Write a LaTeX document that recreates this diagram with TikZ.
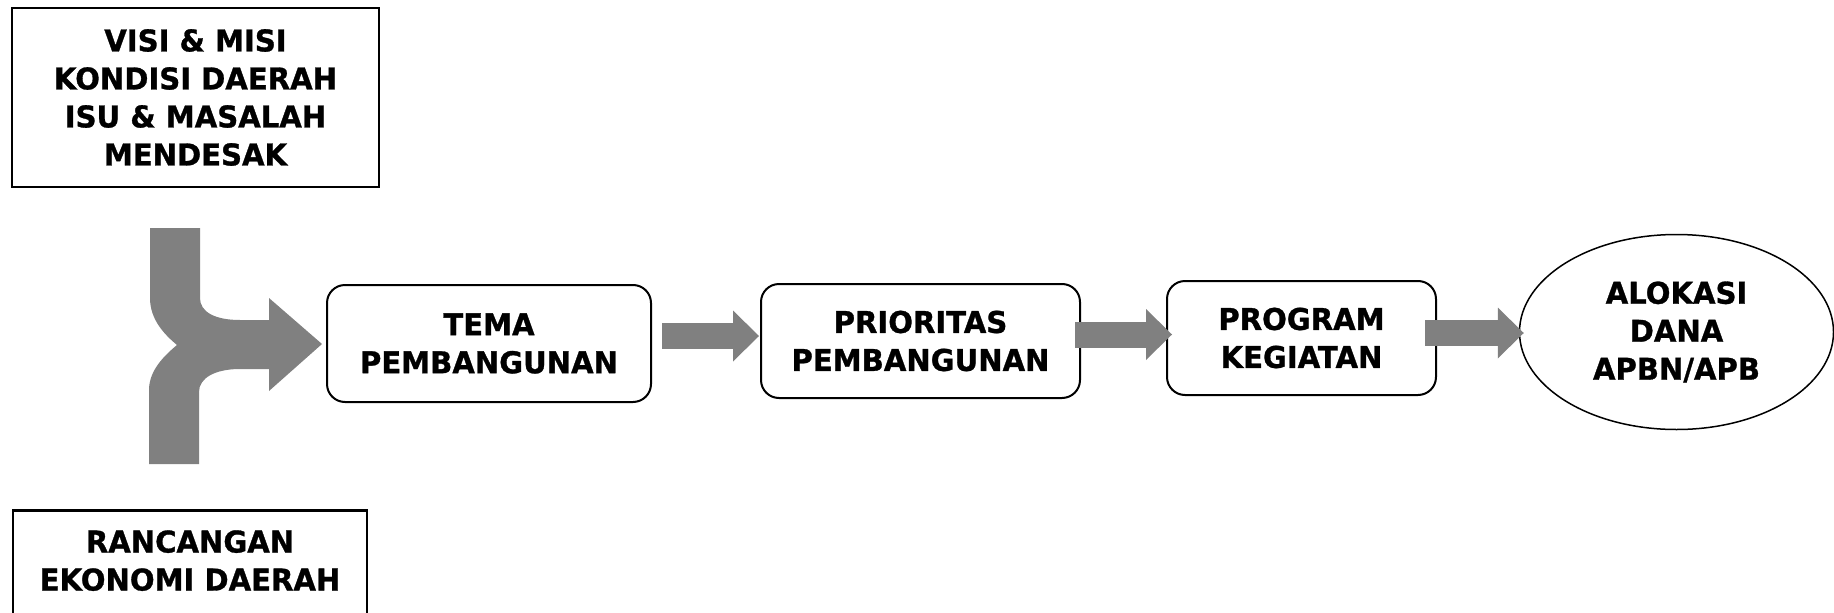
\documentclass[tikz,border=0pt]{standalone}
\usepackage{fontspec}
\setmainfont{DejaVu Sans}[FakeStretch=0.97,FakeBold=1]
\usetikzlibrary{arrows.meta,shapes.geometric}
\tikzset{
  lbl/.style={font=\fontsize{30}{38}\selectfont\bfseries, align=center, inner sep=0pt},
  plainbox/.style={lbl, draw, line width=2.5pt},
  roundbox/.style={lbl, draw, line width=2pt, rounded corners=18pt},
  oval/.style={lbl, draw, ellipse, line width=1.5pt},
  flowarrow/.style={draw=gray, line width=26pt, -{Triangle[length=26pt,width=51pt,line width=0pt]}},
}
\begin{document}
\begin{tikzpicture}[x=1pt,y=-1pt]
    \useasboundingbox (0,0) rectangle (1834,613);
    \node[plainbox, minimum width=367pt, minimum height=179pt] (visi) at (195.5,97.5) {VISI \& MISI\\KONDISI DAERAH\\ISU \& MASALAH\\MENDESAK};
    \node[plainbox, anchor=north, inner ysep=20pt] (ekonomi) at (190,509) {\parbox[t][150pt][t]{354pt}{\centering\fontsize{30}{38}\selectfont\bfseries RANCANGAN\\EKONOMI DAERAH}};
    \node[roundbox, minimum width=324pt, minimum height=117pt] (tema) at (489,343.5) {TEMA\\PEMBANGUNAN};
    \node[roundbox, minimum width=319pt, minimum height=114pt] (prio) at (920.5,341) {PRIORITAS\\PEMBANGUNAN};
    \node[roundbox, minimum width=269pt, minimum height=114pt] (prog) at (1301.5,338) {PROGRAM\\KEGIATAN};
    \node[oval, minimum width=314pt, minimum height=195pt] (dana) at (1676.5,332) {ALOKASI\\DANA\\APBN/APB};
    % merging arrow
    \fill[gray] (150,228) -- (200,228) -- (200,298) .. controls (200,312) and (215,320) .. (240,320)
      -- (269,320) -- (269,298) -- (322,344) -- (269,391) -- (269,369) -- (240,369)
      .. controls (215,369) and (199,378) .. (199,392) -- (199,464) -- (149,464) -- (149,390)
      .. controls (149,370) and (165,355) .. (177,345) .. controls (165,335) and (150,320) .. (150,298) -- cycle;
    \draw[flowarrow] ([xshift=10pt,yshift=7.5pt]tema.east) -- ([xshift=-1pt,yshift=5pt]prio.west);
    \draw[flowarrow] ([xshift=-6pt,yshift=6.5pt]prio.east) -- ([xshift=6pt,yshift=3.5pt]prog.west);
    \draw[flowarrow] ([xshift=-12pt,yshift=5pt]prog.east) -- ([xshift=5pt,yshift=-1pt]dana.west);
  \end{tikzpicture}
\end{document}
